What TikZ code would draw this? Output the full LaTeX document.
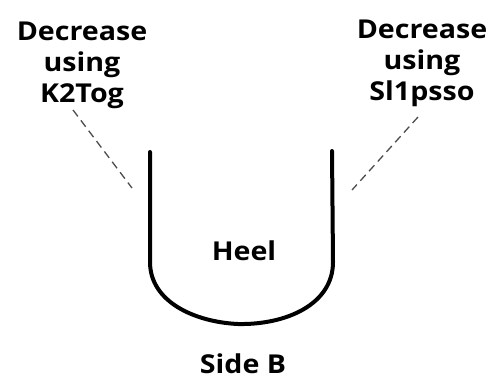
\documentclass[tikz,border=0pt]{standalone}
\usepackage{fontspec}
\setmainfont{Open Sans}[BoldFeatures={FakeStretch=1.1}]
\begin{document}
\begin{tikzpicture}[x=1pt,y=-1pt,
  lbl/.style={font=\fontsize{26}{31}\selectfont\bfseries, align=center, inner sep=0pt},
  leader/.style={draw=black!70, line width=1.3pt, dash pattern=on 8pt off 5pt},
  heel/.style={draw=black, line width=4pt, line cap=round}]
\useasboundingbox (0,0) rectangle (495,384);
\node[lbl] (L) at (82,65) {Decrease\\using\\K2Tog};
\node[lbl] (R) at (422,63) {Decrease\\using\\Sl1psso};
\node[lbl] (heel) at (244,251) {Heel};
\node[lbl] (side) at (243,364) {Side B};
\coordinate (lt) at (150,152);
\coordinate (rt) at (332,151);
\coordinate (la) at (73,110);
\coordinate (lb) at (132,188);
\coordinate (ra) at (418,117);
\coordinate (rb) at (352,190);
\draw[heel] (lt) -- (150,262) .. controls (150,302) and (195,322) .. (238,324)
  .. controls (285,325) and (333,305) .. (333,262) -- (rt);
\draw[leader] (la) -- (lb);
\draw[leader] (ra) -- (rb);
\end{tikzpicture}
\end{document}
